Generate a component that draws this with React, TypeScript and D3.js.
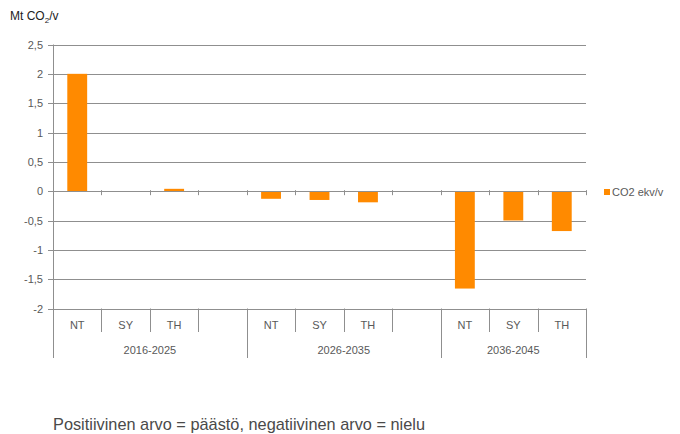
import React from "react";
import * as d3 from "d3";

const periods = ["2016-2025", "2026-2035", "2036-2045"];
const categories = ["NT", "SY", "TH"];
// values per period, per category (Mt CO2 ekv/v)
const values2016 = [2.0, -0.01, 0.04];
const values2026 = [-0.13, -0.15, -0.19];
const values2036 = [-1.66, -0.5, -0.68];
const yTicks = [-2, -1.5, -1, -0.5, 0, 0.5, 1, 1.5, 2, 2.5];
const seriesName = "CO2 ekv/v";
const caption = "Positiivinen arvo = päästö, negatiivinen arvo = nielu";

const allValues = [values2016, values2026, values2036];

const W = 680;
const H = 434;
const left = 53;
const right = 586;
const top = 44.5;
const bottom = 308.5;

const ORANGE = "#ff8a00";
const GRID = "#8f8f8f";
const TEXT = "#595959";
const FONT = "'Liberation Sans', Arial, sans-serif";

export default function App() {
  // slots: each period has 3 categories + 1 empty slot, except the last one
  const slotKeys: string[] = [];
  periods.forEach((p, pi) => {
    categories.forEach((c) => slotKeys.push(`${p}|${c}`));
    if (pi < periods.length - 1) slotKeys.push(`${p}|empty`);
  });

  const x = d3.scaleBand<string>().domain(slotKeys).range([left, right]).padding(0);
  const y = d3.scaleLinear().domain([-2, 2.5]).range([bottom, top]);
  const bw = x.bandwidth();
  const barW = bw * 0.41;
  const y0 = y(0);
  const fmt = (v: number) => d3.format("")(v).replace(".", ",").replace("−", "-");

  const bars: { key: string; v: number }[] = [];
  periods.forEach((p, pi) => {
    categories.forEach((c, ci) => bars.push({ key: `${p}|${c}`, v: allValues[pi][ci] }));
  });

  // boundaries between slots
  const boundaries = slotKeys.map((k) => (x(k) as number) + bw);
  const groupStarts = periods.map((p) => x(`${p}|${categories[0]}`) as number);
  const groupEnds = periods.map((p, pi) =>
    pi < periods.length - 1 ? (x(`${p}|empty`) as number) + bw : right
  );

  const tableTop = bottom;
  const catRowBottom = 332;
  const tableBottom = 358;

  return (
    <svg
      width={W}
      height={H}
      style={{ position: "absolute", left: 0, top: 0, background: "#fff" }}
      fontFamily={FONT}
    >
      <rect width={W} height={H} fill="#fff" />
      {/* title */}
      <text x={10} y={20} fontSize={12} fill="#222">
        Mt CO
        <tspan fontSize={8} dy={3}>2</tspan>
        <tspan dy={-3}>/v</tspan>
      </text>

      {/* gridlines */}
      {yTicks.map((t) => (
        <g key={t}>
          <line x1={left - 5} x2={right} y1={Math.round(y(t)) + 0.5} y2={Math.round(y(t)) + 0.5} stroke={GRID} strokeWidth={1} />
          <text x={43} y={Math.round(y(t)) + 4} fontSize={11} fill={TEXT} textAnchor="end">
            {fmt(t)}
          </text>
        </g>
      ))}

      {/* bars */}
      {bars.map((b) => {
        const cx = (x(b.key) as number) + bw / 2;
        const yTop = Math.min(y(b.v), y0);
        const h = Math.abs(y(b.v) - y0);
        return <rect key={b.key} x={cx - barW / 2} y={yTop} width={barW} height={Math.max(h, 0.8)} fill={ORANGE} />;
      })}

      {/* zero axis tick marks */}
      {boundaries.map((bx, i) => (
        <line key={i} x1={Math.round(bx) + 0.5} x2={Math.round(bx) + 0.5} y1={y0 - 1} y2={y0 + 4} stroke={GRID} />
      ))}
      <line x1={left} x2={right} y1={Math.round(y0) + 0.5} y2={Math.round(y0) + 0.5} stroke={GRID} />

      {/* y axis */}
      <line x1={left + 0.5} x2={left + 0.5} y1={top} y2={tableBottom} stroke={GRID} />

      {/* category table */}
      {boundaries.map((bx, i) => {
        const isGroupEnd = groupEnds.some((g) => Math.abs(g - bx) < 0.5);
        return (
          <line
            key={`b${i}`}
            x1={Math.round(bx) + 0.5}
            x2={Math.round(bx) + 0.5}
            y1={tableTop}
            y2={isGroupEnd ? tableBottom : catRowBottom}
            stroke={GRID}
          />
        );
      })}
      {bars.map((b) => {
        const cx = (x(b.key) as number) + bw / 2;
        const label = b.key.split("|")[1];
        return (
          <text key={`l${b.key}`} x={cx} y={329} fontSize={11} fill={TEXT} textAnchor="middle">
            {label}
          </text>
        );
      })}
      {periods.map((p, pi) => (
        <text key={p} x={(groupStarts[pi] + groupEnds[pi]) / 2} y={354} fontSize={11} fill={TEXT} textAnchor="middle">
          {p}
        </text>
      ))}

      {/* legend */}
      <rect x={604} y={189} width={6} height={6} fill={ORANGE} />
      <text x={612} y={196} fontSize={11} fill={TEXT}>
        {seriesName}
      </text>

      {/* caption */}
      <text x={53} y={430} fontSize={17} fill="#4a4a4a" textLength={372} lengthAdjust="spacingAndGlyphs">
        {caption}
      </text>
    </svg>
  );
}
